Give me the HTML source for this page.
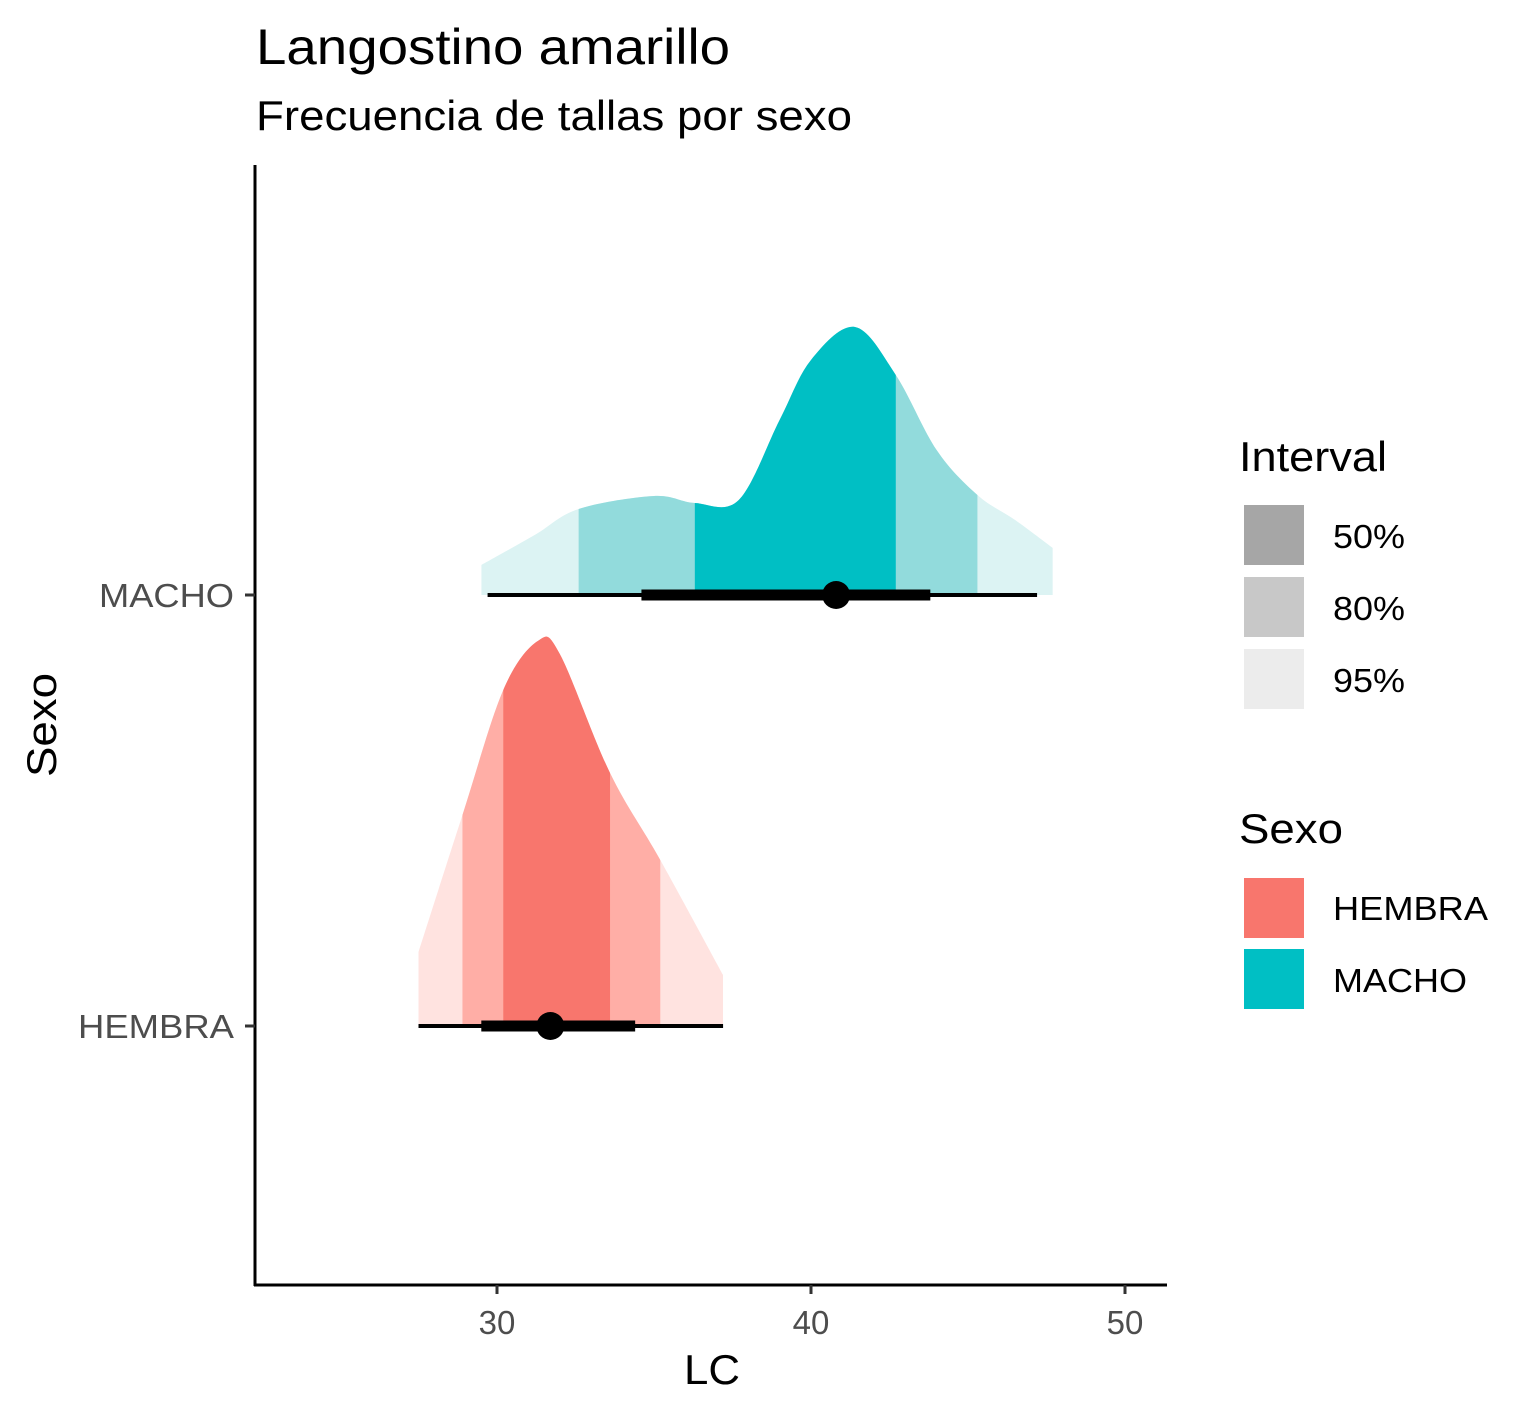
<!DOCTYPE html>
<html><head><meta charset="utf-8"><style>
body{margin:0;background:#fff;}
svg{display:block;font-family:"Liberation Sans",Arial,sans-serif;}
</style></head><body>
<svg width="1535" height="1417" viewBox="0 0 1535 1417">
<text x="256" y="64" font-size="50" textLength="474" lengthAdjust="spacingAndGlyphs" fill="#000">Langostino amarillo</text>
<text x="256" y="130" font-size="42" textLength="596" lengthAdjust="spacingAndGlyphs" fill="#000">Frecuencia de tallas por sexo</text>
<g id="plot"></g>
<line x1="255" y1="165" x2="255" y2="1286" stroke="#000" stroke-width="3"/>
<line x1="254" y1="1285" x2="1167" y2="1285" stroke="#000" stroke-width="3"/>
<g id="axes"></g>
<text x="712" y="1384" font-size="42" textLength="56" lengthAdjust="spacingAndGlyphs" text-anchor="middle">LC</text>
<text transform="translate(56,725) rotate(-90)" font-size="42" textLength="104" lengthAdjust="spacingAndGlyphs" text-anchor="middle">Sexo</text>
<g>
<text x="1239" y="471" font-size="42" textLength="148" lengthAdjust="spacingAndGlyphs">Interval</text>
<rect x="1244" y="505" width="60" height="60" fill="#a6a6a6"/>
<text x="1333" y="548" font-size="33" textLength="72" lengthAdjust="spacingAndGlyphs">50%</text>
<rect x="1244" y="577" width="60" height="60" fill="#c8c8c8"/>
<text x="1333" y="620" font-size="33" textLength="72" lengthAdjust="spacingAndGlyphs">80%</text>
<rect x="1244" y="649" width="60" height="60" fill="#ececec"/>
<text x="1333" y="692" font-size="33" textLength="72" lengthAdjust="spacingAndGlyphs">95%</text>
</g>
<g>
<text x="1239" y="843" font-size="42" textLength="104" lengthAdjust="spacingAndGlyphs">Sexo</text>
<rect x="1244" y="878" width="60" height="60" fill="#F8766D"/>
<text x="1333" y="920" font-size="33" textLength="155" lengthAdjust="spacingAndGlyphs">HEMBRA</text>
<rect x="1244" y="949" width="60" height="60" fill="#00BFC4"/>
<text x="1333" y="992" font-size="33" textLength="134" lengthAdjust="spacingAndGlyphs">MACHO</text>
</g>
</svg>
<script>
const categories=["HEMBRA","MACHO"];
const xTicks=[30,40,50];
const hembraX=[27.5,28.9,30.2,31.3,32.0,33.6,35.2,37.2];
const hembraD=[74,211,336,385,372,253,166,51];
const machoX=[29.5,31.2,32.6,35.0,36.3,37.7,39.0,40.0,41.4,42.7,44.0,45.3,46.5,47.7];
const machoD=[30,60,86,99,92,95,175,235,268,220,145,100,75,47];
const hembraBands=[[27.5,37.2],[28.9,35.2],[30.2,33.6]];
const machoBands=[[29.5,47.7],[32.6,45.3],[36.3,42.7]];
const hembraInt=[27.5,29.5,31.7,34.4,37.2];
const machoInt=[29.7,34.6,40.8,43.8,47.2];
const NS="http://www.w3.org/2000/svg";
const xs=v=>497+(v-30)*31.4;
const ys=c=>({HEMBRA:1026,MACHO:595})[c];
function mk(t,a,p){const e=document.createElementNS(NS,t);for(const k in a)e.setAttribute(k,a[k]);p.appendChild(e);return e;}
const plot=document.getElementById('plot'),axes=document.getElementById('axes');
function curve(X,D,base){
 const P=X.map((x,i)=>[xs(x),base-D[i]]);
 let d=`M${P[0][0]},${base} L${P[0][0]},${P[0][1]}`;
 for(let i=0;i<P.length-1;i++){
  const p0=P[i-1]||P[i],p1=P[i],p2=P[i+1],p3=P[i+2]||P[i+1];
  d+=` C${p1[0]+(p2[0]-p0[0])/6},${p1[1]+(p2[1]-p0[1])/6} ${p2[0]-(p3[0]-p1[0])/6},${p2[1]-(p3[1]-p1[1])/6} ${p2[0]},${p2[1]}`;
 }
 return d+` L${P[P.length-1][0]},${base} Z`;
}
function series(cat,X,D,bands,iv,cols){
 const base=ys(cat),id='clip-'+cat;
 const defs=mk('defs',{},plot);
 const cp=mk('clipPath',{id:id},defs);
 mk('path',{d:curve(X,D,base)},cp);
 const g=mk('g',{'clip-path':`url(#${id})`},plot);
 
 
 bands.forEach((b,i)=>{
  const r=mk('rect',{x:xs(b[0]),y:base-500,width:xs(b[1])-xs(b[0]),height:500,fill:cols[i]},g);
  
  
 });
 const l1=mk('line',{x1:xs(iv[0]),x2:xs(iv[4]),y1:base,y2:base,stroke:'#000','stroke-width':4},plot);
 
 
 const l2=mk('line',{x1:xs(iv[1]),x2:xs(iv[3]),y1:base,y2:base,stroke:'#000','stroke-width':11},plot);
 
 
 const c=mk('circle',{cx:xs(iv[2]),cy:base,r:14,fill:'#000'},plot);
 
 
}
series('MACHO',machoX,machoD,machoBands,machoInt,['#dcf3f3','#92dbdc','#00BFC4']);
series('HEMBRA',hembraX,hembraD,hembraBands,hembraInt,['#ffe3e0','#ffaea6','#F8766D']);
xTicks.forEach(v=>{
 const t=mk('line',{x1:xs(v),x2:xs(v),y1:1285,y2:1294,stroke:'#333','stroke-width':3},axes);
 
 
 const l=mk('text',{x:xs(v),y:1334,'font-size':33,'text-anchor':'middle',fill:'#4d4d4d'},axes);
 l.textContent=v;
 
 
});
const yw={HEMBRA:156,MACHO:135};
categories.forEach(c=>{
 const t=mk('line',{x1:245,x2:255,y1:ys(c),y2:ys(c),stroke:'#333','stroke-width':3},axes);
 
 
 const l=mk('text',{x:234,y:ys(c)+12,'font-size':33,'text-anchor':'end',fill:'#4d4d4d',textLength:yw[c],lengthAdjust:'spacingAndGlyphs'},axes);
 l.textContent=c;
 
 
});
</script>
</body></html>
